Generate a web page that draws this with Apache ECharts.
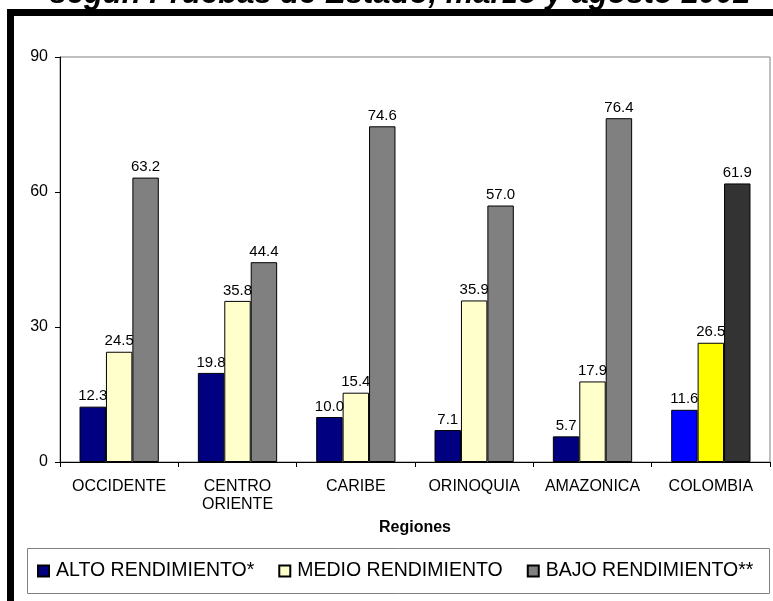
<!DOCTYPE html>
<html>
<head>
<meta charset="utf-8">
<script src="https://cdn.jsdelivr.net/npm/echarts@6/dist/echarts.min.js"></script>
<style>
html, body { margin: 0; padding: 0; background: #fff; }
#main { width: 773px; height: 601px; }
</style>
</head>
<body>
<div id="main"></div>
<script>
var regiones = ["OCCIDENTE", "CENTRO\nORIENTE", "CARIBE", "ORINOQUIA", "AMAZONICA", "COLOMBIA"];
var alto = [12.3, 19.8, 10.0, 7.1, 5.7, 11.6];
var medio = [24.5, 35.8, 15.4, 35.9, 17.9, 26.5];
var bajo = [63.2, 44.4, 74.6, 57.0, 76.4, 61.9];
var yTicks = [0, 30, 60, 90];

var font = "Liberation Sans, Arial, sans-serif";

// the last category (Colombia) is drawn with stronger colours
function build(values, lastColor) {
    return values.map(function (v, i) {
        if (i === values.length - 1) {
            return { value: v, itemStyle: { color: lastColor } };
        }
        return v;
    });
}

function serie(name, values, color, lastColor) {
    return {
        name: name,
        type: "bar",
        barGap: 0,
        barCategoryGap: "33%",
        itemStyle: { color: color, borderColor: "#000", borderWidth: 1 },
        label: {
            show: true,
            position: "top",
            distance: 3,
            color: "#000",
            fontFamily: font,
            fontSize: 15,
            formatter: function (p) { return p.value.toFixed(1); }
        },
        data: build(values, lastColor)
    };
}

var myChart = echarts.init(document.getElementById("main"));
var option = {
    animation: false,
    title: {
        text: "según Pruebas de Estado, marzo y agosto 2002",
        left: 400,
        textAlign: "center",
        top: -21,
        padding: 0,
        textStyle: { fontFamily: font, fontSize: 31, lineHeight: 31, fontWeight: "bold", fontStyle: "italic", color: "#000" }
    },
    graphic: [{
        type: "rect",
        shape: { x: 10.5, y: 12.5, width: 800, height: 700 },
        style: { fill: null, stroke: "#000", lineWidth: 7 },
        silent: true
    }, {
        type: "rect",
        shape: { x: 27.5, y: 548.5, width: 742, height: 45 },
        style: { fill: null, stroke: "#808080", lineWidth: 1 },
        silent: true
    }],
    legend: {
        left: 37,
        top: 561,
        padding: 0,
        itemWidth: 11,
        itemHeight: 11,
        itemGap: 24,
        icon: "rect",
        textStyle: { fontFamily: font, fontSize: 19.5, color: "#000", padding: [0, 0, 0, 2] },
        data: ["ALTO RENDIMIENTO*", "MEDIO RENDIMIENTO", "BAJO RENDIMIENTO**"]
    },
    grid: {
        left: 60,
        right: 3,
        top: 57,
        bottom: 139,
        show: true,
        borderColor: "#808080",
        borderWidth: 1,
        backgroundColor: "#fff"
    },
    xAxis: {
        type: "category",
        data: regiones,
        name: "Regiones",
        nameLocation: "middle",
        nameGap: 58,
        nameTextStyle: { fontFamily: font, fontSize: 16, fontWeight: "bold", color: "#000" },
        axisLine: { lineStyle: { color: "#000" } },
        axisTick: { show: true, length: 5, lineStyle: { color: "#000" } },
        axisLabel: { fontFamily: font, fontSize: 16, color: "#000", margin: 16, lineHeight: 18, interval: 0 }
    },
    yAxis: {
        type: "value",
        min: yTicks[0],
        max: yTicks[yTicks.length - 1],
        interval: 30,
        splitLine: { show: false },
        axisLine: { show: true, lineStyle: { color: "#000" } },
        axisTick: { show: true, length: 5, lineStyle: { color: "#000" } },
        axisLabel: { fontFamily: font, fontSize: 16, color: "#000", margin: 12 }
    },
    series: [
        serie("ALTO RENDIMIENTO*", alto, "#000080", "#0000ff"),
        serie("MEDIO RENDIMIENTO", medio, "#ffffcc", "#ffff00"),
        serie("BAJO RENDIMIENTO**", bajo, "#808080", "#333333")
    ]
};
myChart.setOption(option);
</script>
</body>
</html>
